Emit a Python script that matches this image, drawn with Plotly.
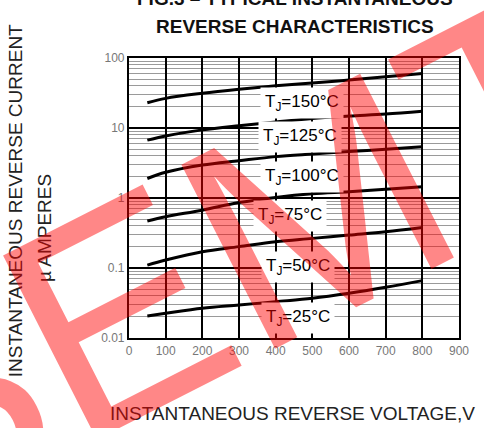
import math
import plotly.graph_objects as go

voltage = [50, 100, 200, 300, 400, 500, 600, 700, 800]
i_150 = [23, 26.5, 31.3, 35.7, 40, 44, 48.5, 54, 60]
i_125 = [6.7, 7.7, 9.4, 10.8, 12.2, 13.7, 14.8, 15.8, 17.3]
i_100 = [1.9, 2.33, 2.96, 3.41, 3.9, 4.25, 4.6, 4.96, 5.4]
i_75 = [0.47, 0.54, 0.67, 0.86, 1.02, 1.15, 1.23, 1.33, 1.45]
i_50 = [0.11, 0.13, 0.171, 0.202, 0.238, 0.265, 0.296, 0.33, 0.38]
i_25 = [0.0206, 0.0225, 0.0266, 0.0296, 0.033, 0.0369, 0.0435, 0.053, 0.066]

series = [("150", i_150), ("125", i_125), ("100", i_100),
          ("75", i_75), ("50", i_50), ("25", i_25)]

x_ticks = [0, 100, 200, 300, 400, 500, 600, 700, 800, 900]
y_ticks = [0.01, 0.1, 1, 10, 100]
y_tick_text = ["0.01", "0.1", "1", "10", "100"]

# label anchor positions (voltage, current) for temperature tags
label_pos = {"150": (473, 22.8), "125": (465, 7.4), "100": (473, 2.0),
             "75": (439, 0.553), "50": (460, 0.103), "25": (460, 0.0193)}

FONT = "Arial, Liberation Sans, sans-serif"

fig = go.Figure()
for name, vals in series:
    fig.add_trace(go.Scatter(x=voltage, y=vals, mode="lines",
                             line=dict(color="black", width=3, shape="spline"),
                             showlegend=False, name=name))

for name, (vx, vy) in label_pos.items():
    fig.add_annotation(x=vx, y=math.log10(vy), yref="y", xref="x",
                       xanchor="center", yanchor="middle",
                       text=f"T<sub>J</sub>={name}°C", showarrow=False,
                       font=dict(family=FONT, size=17, color="black"),
                       bgcolor="white", borderpad=4)

fig.update_layout(
    width=484, height=428,
    margin=dict(l=129, r=25, t=58, b=90),
    paper_bgcolor="white", plot_bgcolor="white",
    font=dict(family=FONT, color="black"),
    xaxis=dict(range=[0, 900], tickvals=x_ticks, showgrid=True,
               gridcolor="black", gridwidth=1.6, zeroline=False,
               showline=True, linecolor="black", linewidth=2.2, mirror=True,
               ticks="", tickfont=dict(size=12, color="#777")),
    yaxis=dict(type="log", range=[-2, 2], tickvals=y_ticks, ticktext=y_tick_text,
               showgrid=True, gridcolor="black", gridwidth=1.6, zeroline=False,
               showline=True, linecolor="black", linewidth=2.2, mirror=True,
               ticks="", tickfont=dict(size=12, color="#777"),
               minor=dict(showgrid=True, gridcolor="#9a9a9a", gridwidth=1,
                          dtick="D1")),
)

# title (first line is partly cut off at the top edge in the reference)
fig.add_annotation(x=0.503, y=1.214, xref="paper", yref="paper",
                   yanchor="middle", xanchor="center",
                   text="<b>FIG.3 – TYPICAL INSTANTANEOUS</b>",
                   showarrow=False, font=dict(family=FONT, size=19, color="#111"))
fig.add_annotation(x=0.503, y=1.114, xref="paper", yref="paper",
                   yanchor="middle", xanchor="center",
                   text="<b>REVERSE CHARACTERISTICS</b>",
                   showarrow=False, font=dict(family=FONT, size=19, color="#111"))

fig.add_annotation(xref="paper", yref="paper", x=-0.345, y=0.489,
                   xanchor="center", yanchor="middle",
                   text="INSTANTANEOUS REVERSE CURRENT", textangle=-90,
                   showarrow=False, font=dict(family=FONT, size=19, color="#222"))
fig.add_annotation(xref="paper", yref="paper", x=-0.2545, y=0.393,
                   xanchor="center", yanchor="middle",
                   text="µ AMPERES", textangle=-90,
                   showarrow=False, font=dict(family=FONT, size=19, color="#222"))
fig.add_annotation(xref="paper", yref="paper", x=0.494, y=-0.268,
                   xanchor="center", yanchor="middle",
                   text="INSTANTANEOUS REVERSE VOLTAGE,V",
                   showarrow=False, font=dict(family=FONT, size=19, color="#222"))

# red watermark drawn over the chart
fig.add_annotation(xref="paper", yref="paper",
                   x=(220 - 129) / 330, y=(338 - 260) / 280,
                   xanchor="center", yanchor="middle",
                   text="SEMT", textangle=-27, showarrow=False,
                   font=dict(family=FONT, size=300, color="rgba(255,0,0,0.47)"))

fig.write_html("out.html", config={"displayModeBar": False},
               post_script="document.body.style.margin='0';")
